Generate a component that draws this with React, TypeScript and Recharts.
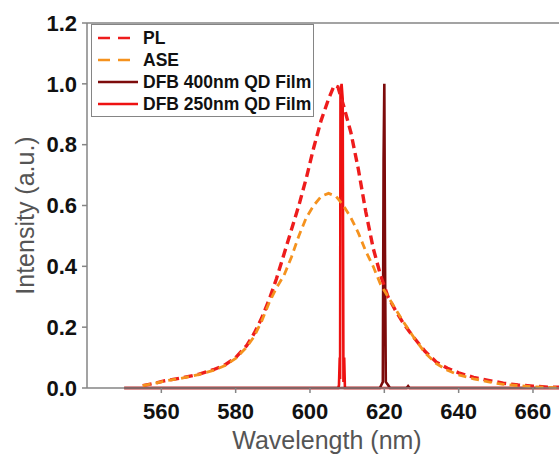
import React from "react";
import {
  LineChart,
  Line,
  XAxis,
  YAxis,
  Label,
  ReferenceLine,
} from "recharts";

// ─── Data ────────────────────────────────────────────────────────────────────

const xTicks = [560, 580, 600, 620, 640, 660];
const yTicks = [0, 0.2, 0.4, 0.6, 0.8, 1.0, 1.2];

const plWavelength = [
  555, 558, 561, 565, 570, 574, 577, 580, 583, 585, 587, 589, 591, 593, 595,
  597, 599, 601, 603, 605, 606.5, 607.5, 609, 611, 613, 615, 617, 619, 621,
  623, 625, 628, 631, 634, 637, 640, 644, 648, 652, 656, 660, 664, 668,
];
const plIntensity = [
  0.008, 0.015, 0.024, 0.032, 0.045, 0.06, 0.075, 0.1, 0.14, 0.18, 0.23, 0.29,
  0.36, 0.44, 0.52, 0.6, 0.69, 0.79, 0.88, 0.95, 0.995, 0.99, 0.93, 0.84, 0.72,
  0.58, 0.46, 0.37, 0.3, 0.255, 0.215, 0.165, 0.12, 0.085, 0.065, 0.05, 0.035,
  0.025, 0.016, 0.01, 0.006, 0.003, 0.002,
];

const aseWavelength = [
  555, 558, 561, 565, 570, 574, 577, 580, 583, 585, 587, 589, 591, 593, 595,
  597, 599, 601, 603, 605, 607, 609, 611, 613, 615, 617, 619, 621, 623, 625,
  628, 631, 634, 637, 640, 644, 648, 652, 656, 660, 664, 668,
];
const aseIntensity = [
  0.008, 0.015, 0.023, 0.031, 0.044, 0.058, 0.073, 0.097, 0.135, 0.17, 0.22,
  0.28, 0.33, 0.37, 0.43, 0.5, 0.56, 0.6, 0.63, 0.64, 0.63, 0.6, 0.56, 0.51,
  0.45, 0.4, 0.34, 0.3, 0.26, 0.22, 0.165, 0.115, 0.08, 0.058, 0.043, 0.03,
  0.02, 0.012, 0.008, 0.004, 0.002, 0.001,
];

const dfb250Wavelength = [
  550, 607.6, 607.8, 608.0, 608.1, 608.2, 608.5, 608.8, 609.0, 609.2, 609.4, 668,
];
const dfb250Intensity = [0, 0, 0.01, 0.1, 0.03, 0.97, 1.0, 0.95, 0.02, 0.1, 0, 0];

const dfb400Wavelength = [
  550, 618.8, 619.2, 619.6, 619.8, 620.0, 620.2, 620.4, 621, 621.5, 626, 626.4, 626.8, 668,
];
const dfb400Intensity = [0, 0, 0.01, 0.02, 0.75, 1.0, 0.4, 0.02, 0.01, 0, 0, 0.006, 0, 0];

const zip = (xs: number[], ys: number[]) => xs.map((x, i) => ({ x, y: ys[i] }));

const series = [
  { name: "PL", data: zip(plWavelength, plIntensity), color: "#ee1c1c", width: 3.4, dash: "9 5" },
  { name: "ASE", data: zip(aseWavelength, aseIntensity), color: "#f5921e", width: 2.8, dash: "8 5" },
  { name: "DFB 400nm QD Film", data: zip(dfb400Wavelength, dfb400Intensity), color: "#7d0b0b", width: 2.6, dash: undefined },
  { name: "DFB 250nm QD Film", data: zip(dfb250Wavelength, dfb250Intensity), color: "#ee1111", width: 2.6, dash: undefined },
];

// draw spikes first, dashed curves on top
const drawOrder = [series[3], series[2], series[0], series[1]];

const FONT = "'Liberation Sans', Arial, sans-serif";
const AXIS = "#858585";

// ─── Legend (overlaid box, top-left of the plot) ─────────────────────────────

function LegendBox() {
  return (
    <div
      style={{
        position: "absolute",
        left: 91,
        top: 24,
        width: 223,
        boxSizing: "border-box",
        border: `1px solid ${AXIS}`,
        background: "#fff",
        padding: "2px 0 1px 5px",
        fontFamily: FONT,
        fontWeight: 700,
        fontSize: 17.5,
        color: "#111",
        lineHeight: "22px",
      }}
    >
      {series.map((s) => (
        <div key={s.name} style={{ display: "flex", alignItems: "center" }}>
          <svg width={42} height={10} style={{ marginRight: 4 }}>
            <line
              x1={1}
              y1={5}
              x2={41}
              y2={5}
              stroke={s.color}
              strokeWidth={s.dash ? 2.6 : 2.4}
              strokeDasharray={s.dash ? "12 8" : undefined}
            />
          </svg>
          <span>{s.name}</span>
        </div>
      ))}
    </div>
  );
}

// ─── Chart ───────────────────────────────────────────────────────────────────

export default function App() {
  return (
    <div style={{ position: "absolute", left: 0, top: 0, width: 559, height: 457, overflow: "hidden", background: "#fff" }}>
      <LineChart width={559} height={457} margin={{ top: 23, right: 0, left: 0, bottom: 0 }}>
        <XAxis
          type="number"
          dataKey="x"
          domain={[540, 667]}
          allowDataOverflow
          ticks={xTicks}
          height={69}
          stroke={AXIS}
          strokeWidth={1.5}
          tickSize={5}
          tickMargin={10}
          tick={{ fontSize: 22, fontWeight: 700, fill: "#111", fontFamily: FONT }}
        >
          <Label
            value="Wavelength (nm)"
            position="center"
            dx={4}
            dy={18}
            style={{ fontSize: 25, fill: "#555", fontFamily: FONT }}
          />
        </XAxis>
        <YAxis
          type="number"
          domain={[0, 1.2]}
          ticks={yTicks}
          width={87}
          stroke={AXIS}
          strokeWidth={1.5}
          tickSize={5}
          tickMargin={5}
          tickFormatter={(v: number) => v.toFixed(1)}
          tick={{ fontSize: 22, fontWeight: 700, fill: "#111", fontFamily: FONT }}
        >
          <Label
            value="Intensity (a.u.)"
            angle={-90}
            position="center"
            dx={-18}
            dy={10}
            style={{ fontSize: 25, fill: "#555", fontFamily: FONT }}
          />
        </YAxis>
        <ReferenceLine y={1.2} stroke={AXIS} strokeWidth={1.5} />
        {drawOrder.map((s) => (
          <Line
            key={s.name}
            data={s.data}
            dataKey="y"
            name={s.name}
            type="linear"
            stroke={s.color}
            strokeWidth={s.width}
            strokeDasharray={s.dash}
            dot={false}
            activeDot={false}
            isAnimationActive={false}
          />
        ))}
      </LineChart>
      <LegendBox />
    </div>
  );
}
